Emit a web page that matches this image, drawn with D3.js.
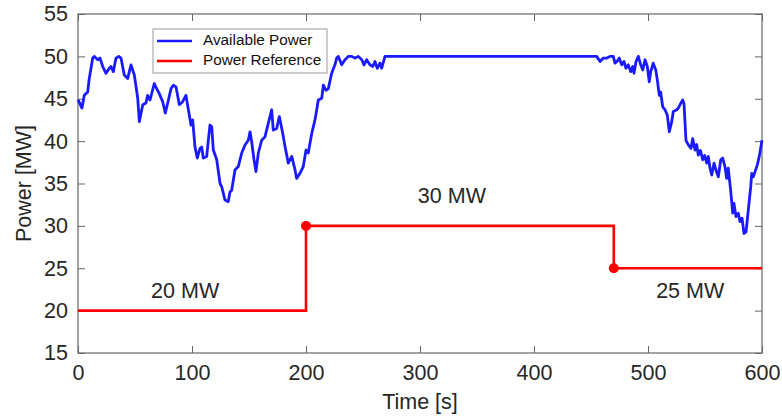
<!DOCTYPE html>
<html><head><meta charset="utf-8">
<script src="https://cdn.jsdelivr.net/npm/d3@7"></script>
<style>body{margin:0;background:#fff;} svg{display:block;font-family:Arial,"Liberation Sans",sans-serif;}</style>
</head><body><svg id="c" width="782" height="417"></svg>
<script>
const xTicks=[0,100,200,300,400,500,600];
const yTicks=[15,20,25,30,35,40,45,50,55];
const availT=[0,3.5,5.5,8.5,9.9,12.9,14.3,17.3,19.3,21.7,24.6,27.5,28.9,31,33.3,35.7,37.7,40.6,43.6,46.5,49.4,52.4,53.8,56.8,59.6,61.1,63.2,66.9,69,71.3,74.3,76.6,78.7,81.6,83.6,86,88.9,91.8,94.7,97.6,99.1,100.6,102.6,104.6,107,108.5,109.9,112.9,114.3,115.8,117.3,118.7,121.7,124.6,126.1,128.9,131.8,133.3,134.8,137.7,140.6,143.6,146.5,149.4,150.9,152.4,154.4,156.1,158.2,161.1,164,166.9,169.9,171.3,174.3,176.6,177.8,179.6,181.6,184.5,187.5,190.4,191.8,194.7,197.6,200,202,205,207.9,210.8,213.8,215.2,217.5,219.6,222.5,225.4,226.9,228.3,231.3,234.2,237.1,240.1,243,245.9,248.9,250.9,253.2,256.1,258.5,260.5,262.5,264.9,266.4,269.3,455,457.9,460.8,464,466.7,469.6,471,472.8,474.8,476.9,478.9,480.7,482.7,484.8,486.6,487.7,489.5,491.5,493.6,495.4,497.4,499.4,501.1,502.4,504.6,506.8,508.2,509.9,511.1,512.9,514.9,516.9,518.7,520.8,522.2,525.2,526.6,528.7,530.4,531.6,533.3,535.4,537.7,539.2,541.2,542.7,544.1,546,548,549.7,551.5,552.9,554.4,555.9,557.9,559.6,561.7,563.8,565.5,567.5,569,570.4,572.5,574.3,575.4,577.2,579.2,580.7,582.5,584.2,586,588,590.1,591,592.4,593.9,595.9,597.6,600];
const availP=[44.9,43.9,45.4,45.8,47.4,49.8,50,49.6,49.8,48.8,48,48.6,48.8,48.2,49.8,50,49.8,47.8,47.4,49,47.8,45.05,42.3,44.3,44.5,45.4,44.85,46.8,46.2,45.6,44.65,43.3,44.5,46.2,46.6,46.4,44.3,44.65,45.4,43.1,41.9,42.5,39.35,38,39.15,39.3,38,38.2,40.1,41.9,41.7,38.95,37.8,35,34.6,33.05,32.85,34,34.2,36.6,37,38.6,39.55,40.1,41.1,39.9,37.8,36.4,38.6,40.1,40.5,42.1,43.7,41.3,41.5,42.9,42.1,40.9,39.35,37.4,38.2,36.6,35.6,36.2,37,38.95,38.6,40.9,42.5,44.85,45.05,46.6,46,46.2,48,49,49.8,50,49,49.6,50,50,49.8,50,49.6,49,49.6,49,48.8,49.4,48.6,49.2,48.6,50,50,49.4,49.8,49.8,50,50,49.2,49.4,49.8,49,49.4,48.6,49,48.2,48.8,48,49.4,50,49,48.4,49.6,48.8,47,48.2,49.2,48.4,47.2,45.4,45.8,44.05,43.7,43.1,41.1,42.3,43.5,43.7,43.9,44.45,44.85,44.4,40.1,39.55,39.15,40.3,38.95,39.6,38.35,38.9,37.8,38.3,37.4,38.2,36.8,36,37.4,36.6,35.8,37.8,38,37,35.6,36.8,34.2,31.5,32.65,31.1,31.5,30.5,30.9,29.1,29.3,31.9,34.6,36.2,35.8,36.4,37.2,38.2,40.1];
const refT=[0,200,200,470,470,600];
const refP=[20,20,30,30,25,25];
const stepT=[200,470];
const stepP=[30,25];
const labels=[{t:94,p:22.1,s:"20 MW"},{t:328,p:33.4,s:"30 MW"},{t:537,p:22.1,s:"25 MW"}];
const legendItems=[{s:"Available Power",c:"#1a1aff"},{s:"Power Reference",c:"#ff0000"}];

const svg=d3.select("#c");
const L=78,R=762,T=14,B=353;
const x=d3.scaleLinear().domain([0,600]).range([L,R]);
const y=d3.scaleLinear().domain([15,55]).range([B,T]);
const axCol="#666", txtCol="#262626";

const gx=svg.append("g").attr("transform",`translate(0,${B})`).call(d3.axisBottom(x).tickValues(xTicks).tickSize(-7).tickPadding(12));
const gxt=svg.append("g").attr("transform",`translate(0,${T})`).call(d3.axisTop(x).tickValues(xTicks).tickSize(-7).tickFormat(""));
const gy=svg.append("g").attr("transform",`translate(${L},0)`).call(d3.axisLeft(y).tickValues(yTicks).tickSize(-7).tickPadding(10));
const gyr=svg.append("g").attr("transform",`translate(${R},0)`).call(d3.axisRight(y).tickValues(yTicks).tickSize(-7).tickFormat(""));
[gx,gxt,gy,gyr].forEach(g=>{
  g.selectAll("line").attr("stroke",axCol).attr("stroke-width",1);
  g.selectAll("text").attr("fill",txtCol).attr("font-size",21.5).attr("font-family","Arial, 'Liberation Sans', sans-serif");
  g.select(".domain").remove();
});
svg.append("rect").attr("x",L).attr("y",T).attr("width",R-L).attr("height",B-T).attr("fill","none").attr("stroke",axCol).attr("stroke-width",1.2);

const avail=availT.map((t,i)=>[t,availP[i]]);
const ref=refT.map((t,i)=>[t,refP[i]]);
const line=d3.line().x(d=>x(d[0])).y(d=>y(d[1]));
svg.append("path").attr("d",line(avail)).attr("fill","none").attr("stroke","#1a1aff").attr("stroke-width",2.8).attr("stroke-linejoin","round");
svg.append("path").attr("d",line(ref)).attr("fill","none").attr("stroke","#ff0000").attr("stroke-width",2.6);
svg.selectAll("circle.m").data(stepT.map((t,i)=>[t,stepP[i]])).enter().append("circle")
  .attr("cx",d=>x(d[0])).attr("cy",d=>y(d[1])).attr("r",5).attr("fill","#ff0000");

svg.selectAll("text.ann").data(labels).enter().append("text")
  .attr("x",d=>x(d.t)).attr("y",d=>y(d.p)).attr("text-anchor","middle").attr("dominant-baseline","middle")
  .attr("font-size",21.5).attr("fill",txtCol).text(d=>d.s);

svg.append("text").attr("x",(L+R)/2).attr("y",409).attr("text-anchor","middle").attr("font-size",21.5).attr("fill",txtCol).text("Time [s]");
svg.append("text").attr("transform",`translate(31,${(T+B)/2}) rotate(-90)`).attr("text-anchor","middle").attr("font-size",21.5).attr("fill",txtCol).text("Power [MW]");

const lg=svg.append("g");
lg.append("rect").attr("x",153).attr("y",29).attr("width",174).attr("height",44).attr("fill","#fff").attr("stroke","#999").attr("stroke-width",1);
legendItems.forEach((d,i)=>{
  const yy=41+i*20;
  lg.append("line").attr("x1",157).attr("x2",192).attr("y1",yy).attr("y2",yy).attr("stroke",d.c).attr("stroke-width",2.6);
  lg.append("text").attr("x",203).attr("y",yy).attr("dominant-baseline","middle").attr("font-size",15.3).attr("fill","#111").text(d.s);
});
</script></body></html>
